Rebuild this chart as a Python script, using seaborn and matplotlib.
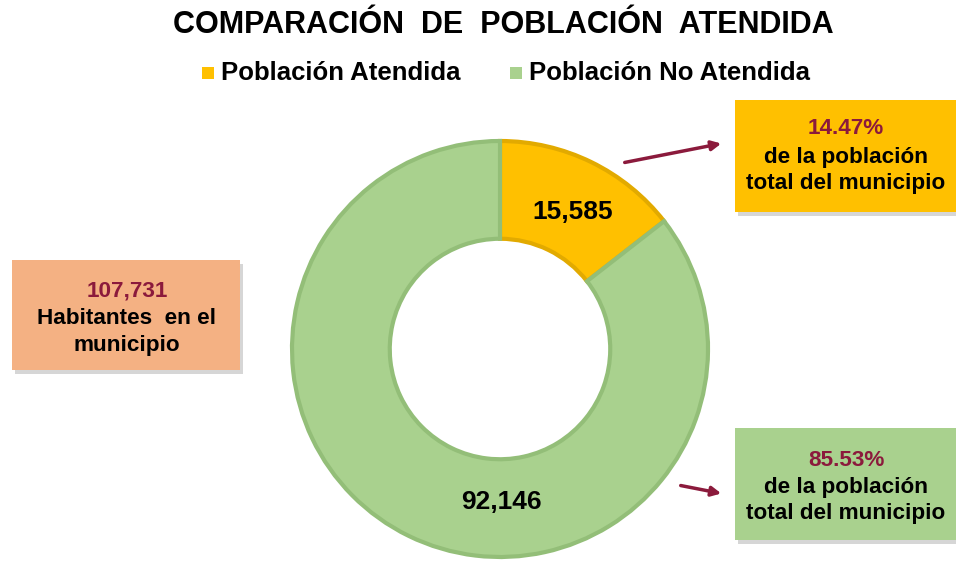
import matplotlib
matplotlib.use("Agg")
import matplotlib.pyplot as plt
import seaborn as sns
from matplotlib.patches import Rectangle, FancyArrowPatch

# ---- data ----
categories = ["Población Atendida", "Población No Atendida"]
values = [15585, 92146]
total_habitantes = 107731
percent_labels = ["14.47%", "85.53%"]
value_labels = ["15,585", "92,146"]
title = "COMPARACIÓN  DE  POBLACIÓN  ATENDIDA"

# ---- style ----
sns.set_theme(style="white")
plt.rcParams["font.family"] = ["Liberation Sans", "DejaVu Sans"]
plt.rcParams["font.weight"] = "bold"

slice_colors = ["#FFC000", "#A9D18E"]
edge_colors = ["#E2AA00", "#93BE78"]
dark_red = "#8B1A3C"

W, H = 956, 563
fig = plt.figure(figsize=(W / 100, H / 100), dpi=100)
ax = fig.add_axes([0, 0, 1, 1])


def Y(py):
    return H - py


# donut
cx, cy, R = 500, Y(349), 208
wedges, _ = ax.pie(values, colors=slice_colors, startangle=90, counterclock=False,
                   center=(cx, cy), radius=R, frame=True,
                   wedgeprops=dict(width=R * 0.47, linewidth=3))
for w, ec in zip(wedges, edge_colors):
    w.set_edgecolor(ec)
ax.set_xlim(0, W)
ax.set_ylim(0, H)
ax.set_aspect("equal")
ax.axis("off")

# slice value labels
ax.text(573, Y(212), value_labels[0], ha="center", va="center", fontsize=19,
        fontweight="bold", color="black")
ax.text(501, Y(502), value_labels[1], ha="center", va="center", fontsize=19,
        fontweight="bold", color="black")

# title and legend
ax.text(503, Y(25), title, ha="center", va="center", fontsize=22,
        fontweight="bold", color="black")
leg_y = Y(73)
ax.add_patch(Rectangle((202, leg_y - 6), 12, 12, color=slice_colors[0], ec="none"))
ax.text(221, leg_y, categories[0], ha="left", va="center", fontsize=18.5,
        fontweight="bold", color="black")
ax.add_patch(Rectangle((510, leg_y - 6), 12, 12, color=slice_colors[1], ec="none"))
ax.text(529, leg_y, categories[1], ha="left", va="center", fontsize=18.5,
        fontweight="bold", color="black")


def box(x0, y0, x1, y1, color):
    ax.add_patch(Rectangle((x0 + 3, Y(y1) - 4), x1 - x0, y1 - y0,
                           color="#999999", alpha=0.4, ec="none", zorder=2))
    ax.add_patch(Rectangle((x0, Y(y1)), x1 - x0, y1 - y0,
                           color=color, ec="none", zorder=3))


# boxes
box(735, 100, 958, 212, "#FFC000")
box(12, 260, 240, 370, "#F4B183")
box(735, 428, 958, 540, "#A9D18E")

fs = 16.2
# top-right box text
ax.text(846, Y(128), percent_labels[0], ha="center", va="center", fontsize=fs,
        fontweight="bold", color=dark_red, zorder=4)
ax.text(846, Y(157), "de la población", ha="center", va="center", fontsize=fs,
        fontweight="bold", color="black", zorder=4)
ax.text(846, Y(184), "total del municipio", ha="center", va="center", fontsize=fs,
        fontweight="bold", color="black", zorder=4)

# left box text
ax.text(127, Y(291), f"{total_habitantes:,}", ha="center", va="center", fontsize=fs,
        fontweight="bold", color=dark_red, zorder=4)
ax.text(127, Y(318), "Habitantes  en el", ha="center", va="center", fontsize=fs,
        fontweight="bold", color="black", zorder=4)
ax.text(127, Y(345), "municipio", ha="center", va="center", fontsize=fs,
        fontweight="bold", color="black", zorder=4)

# bottom-right box text
ax.text(846, Y(460), percent_labels[1], ha="center", va="center", fontsize=fs,
        fontweight="bold", color=dark_red, zorder=4)
ax.text(846, Y(487), "de la población", ha="center", va="center", fontsize=fs,
        fontweight="bold", color="black", zorder=4)
ax.text(846, Y(513), "total del municipio", ha="center", va="center", fontsize=fs,
        fontweight="bold", color="black", zorder=4)

# arrows
for (x0, y0, x1, y1) in [(622, 163, 724, 143), (678, 485, 724, 494)]:
    ax.add_patch(FancyArrowPatch((x0, Y(y0)), (x1, Y(y1)), arrowstyle="-|>",
                                 mutation_scale=14, color=dark_red, lw=2.5, zorder=5))

fig.savefig("out.png", dpi=100)
